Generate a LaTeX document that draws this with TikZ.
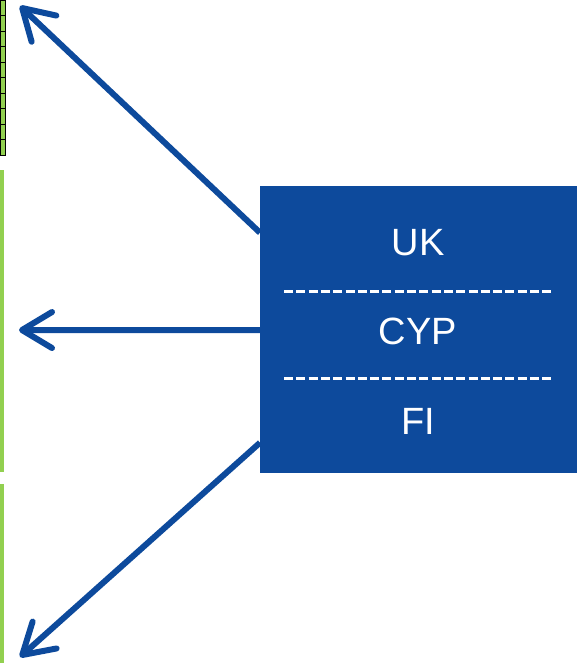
\documentclass[tikz,border=0pt]{standalone}
\usepackage{fontspec}
\setmainfont{Liberation Sans}
\usetikzlibrary{arrows.meta}
\definecolor{boxblue}{HTML}{0D4A9C}
\definecolor{cellgreen}{HTML}{92D050}
\tikzset{
    pointer/.style={draw=boxblue, line width=6pt,
        -{Straight Barb[length=30pt, width=36pt, line width=6pt, round]}},
    splitter/.style={draw=white, line width=3pt, dash pattern=on 9pt off 3.3pt},
    countrytext/.style={text=white, font=\fontsize{38}{42}\selectfont}
}
\begin{document}
\begin{tikzpicture}[x=1pt, y=-1pt]
    \useasboundingbox (0, 0) rectangle (577, 663);

    % strip of cells at the left edge
    \fill[cellgreen] (0, 0) rectangle (5, 155);
    \foreach \y in {0, 15.5, 31, ..., 140} {
        \draw[black, line width=0.8pt] (0, \y) rectangle (5, \y + 15.5);
    }
    \fill[cellgreen] (0, 170) rectangle (4, 472);
    \fill[cellgreen] (0, 484) rectangle (4, 663);

    % country box
    \node[fill=boxblue, minimum width=317pt, minimum height=287pt,
        inner sep=0pt, anchor=north west] (countries) at (260, 186) {};
    \node[countrytext] (uk) at (418, 243) {UK};
    \node[countrytext] (cyp) at (418, 331) {CYP};
    \node[countrytext] (fi) at (418, 421) {FI};
    \draw[splitter] (284, 291) -- (554, 291);
    \draw[splitter] (284, 378) -- (554, 378);

    % arrows
    \coordinate (topend) at (20, 6);
    \coordinate (midend) at (19, 330);
    \coordinate (lowend) at (20, 657);
    \draw[pointer] ([yshift=97pt]countries.west) -- (topend);
    \draw[pointer] ([yshift=-0.5pt]countries.west) -- (midend);
    \draw[pointer] ([yshift=-113pt]countries.west) -- (lowend);
\end{tikzpicture}
\end{document}
